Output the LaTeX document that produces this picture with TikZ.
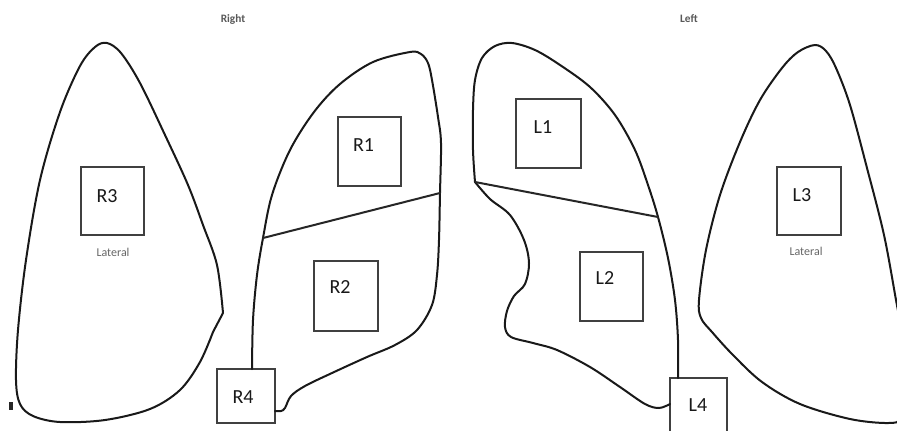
\documentclass[tikz,border=0pt]{standalone}
\usepackage{fontspec}
\setmainfont{Carlito}
\usetikzlibrary{calc}

\tikzset{
  lung/.style={line width=1.5pt, line join=round, line cap=round, black!90},
  fissure/.style={line width=1.5pt, line cap=round, black!85},
  regbox/.style={draw=black!75, line width=1.1pt, fill=white, inner sep=0pt},
  reglabel/.style={font=\fontsize{15}{17}\selectfont, text=black!90, inner sep=0pt},
  sidelabel/.style={font=\bfseries\fontsize{8.5}{10}\selectfont, text=black!65, inner sep=0pt},
  lateral/.style={font=\fontsize{9}{10}\selectfont, text=black!60, inner sep=0pt}
}

\begin{document}
\begin{tikzpicture}[x=0.75pt, y=-0.75pt]
\clip (0,0) rectangle (897,430);
\fill[white] (0,0) rectangle (897,430);

% headings
\node[sidelabel] (right) at (233,19) {Right};
\node[sidelabel] (left) at (689,19) {Left};

% right lung, lateral view
\draw[lung] plot[smooth, tension=0.55] coordinates {
  (223,313) (217,265) (203,225) (188,185) (165,135) (140,83) (121,53) (107,43)
  (95,47) (80,66) (60,112) (40,180) (26,260) (18,330) (16,380) (20,404)
  (33,416) (60,422) (105,420) (150,409) (180,390) (200,362) (213,332)} -- cycle;
\fill[black!85] (9,402) rectangle (13,410);

% right lung, upper and lower lobes
\node[regbox, minimum width=58*0.75pt, minimum height=54*0.75pt] (R4box) at (246,396) {};
\coordinate (rf1) at (263,238);
\coordinate (rf2) at (440,193);
\draw[lung] plot[smooth, tension=0.55] coordinates {
  (252,369) (253,320) (257,275) (263,238) (272,195) (290,150) (314,112)
  (340,84) (373,62) (410,52) (421,54) (428,63) (432,80) (438,117)
  (441,143) (440,193) (439,240) (437,275) (432,305) (417,330) (395,345)
  (367,357) (332,373) (305,386) (291,396) (285,408) (281,411) (275,411)};
\draw[fissure] (rf1) -- (rf2);

% left lung, upper and lower lobes
\node[regbox, minimum width=57*0.75pt, minimum height=58*0.75pt] (L4box) at (698.5,407) {};
\coordinate (lf1) at (475,182);
\coordinate (lf2) at (658,217);
\draw[lung] plot[smooth, tension=0.55] coordinates {
  (678,378) (678,340) (675,300) (668,258) (658,217) (648,185) (635,150)
  (615,115) (590,87) (560,65) (535,50) (512,43) (495,46) (482,58) (475,80)
  (473,110) (473,150) (475,182)};
\draw[lung] plot[smooth, tension=0.55] coordinates {
  (475,182) (490,199) (510,215) (524,240) (529,263) (525,284) (514,296)
  (507,311) (505,327) (511,337) (533,343) (557,350) (590,367) (620,387)
  (645,404) (659,408) (670,404)};
\draw[fissure] (lf1) -- (lf2);

% left lung, lateral view
\draw[lung] plot[smooth cycle, tension=0.55] coordinates {
  (815,45) (798,52) (782,68) (760,100) (740,142) (720,195) (706,250)
  (699,300) (701,318) (712,332) (733,355) (762,382) (800,404) (850,419)
  (888,423) (901,418) (906,390) (903,340) (896,300) (884,235) (867,168)
  (850,105) (836,68) (826,51)};

% region boxes
\node[regbox, minimum width=63*0.75pt, minimum height=68*0.75pt] (R3box) at (112.5,201) {};
\node[regbox, minimum width=63*0.75pt, minimum height=69*0.75pt] (R1box) at (369.5,151.5) {};
\node[regbox, minimum width=64*0.75pt, minimum height=70*0.75pt] (R2box) at (346,296) {};
\node[regbox, minimum width=65*0.75pt, minimum height=69*0.75pt] (L1box) at (548.5,133.5) {};
\node[regbox, minimum width=63*0.75pt, minimum height=69*0.75pt] (L2box) at (611.5,286.5) {};
\node[regbox, minimum width=64*0.75pt, minimum height=68*0.75pt] (L3box) at (809,201) {};

% region labels
\node[reglabel] (R3) at ($(R3box.center)+(-5.5,-5)$) {R3};
\node[reglabel] (R1) at ($(R1box.center)+(-6,-6.5)$) {R1};
\node[reglabel] (R2) at ($(R2box.center)+(-6,-9)$) {R2};
\node[reglabel] (R4) at ($(R4box.center)+(-3,1)$) {R4};
\node[reglabel] (L1) at ($(L1box.center)+(-5.5,-6.5)$) {L1};
\node[reglabel] (L2) at ($(L2box.center)+(-6.5,-8.5)$) {L2};
\node[reglabel] (L3) at ($(L3box.center)+(-7,-6)$) {L3};
\node[reglabel] (L4) at (698,405) {L4};

\node[lateral] (latR) at (113,252) {Lateral};
\node[lateral] (latL) at (806,251) {Lateral};
\end{tikzpicture}
\end{document}
